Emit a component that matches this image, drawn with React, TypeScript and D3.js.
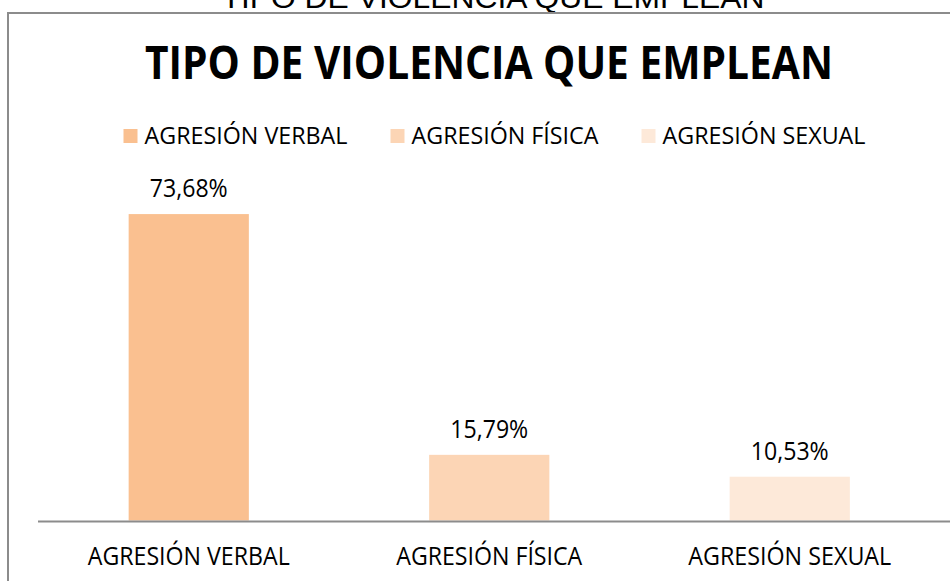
import React from "react";
import * as d3 from "d3";

const categories = ["AGRESIÓN VERBAL", "AGRESIÓN FÍSICA", "AGRESIÓN SEXUAL"];
const values = [73.68, 15.79, 10.53];
const valueLabels = ["73,68%", "15,79%", "10,53%"];
const colors = ["#FAC090", "#FCD5B5", "#FDE9D9"];
const title = "TIPO DE VIOLENCIA QUE EMPLEAN";

const W = 950;
const H = 581;
const FONT = "'Open Sans', 'Noto Sans', sans-serif";

export default function App() {
  const x = d3
    .scaleBand<string>()
    .domain(categories)
    .range([38.5, 940])
    .paddingInner(0.6)
    .paddingOuter(0.3);
  const y = d3.scaleLinear().domain([0, 80]).range([520.5, 187.8]);

  const legendX = [123.5, 390.5, 641.5];
  const legendTextW = [203, 187, 203];
  const catTextW = [202, 186, 203];

  return (
    <svg
      width={W}
      height={H}
      style={{ position: "absolute", left: 0, top: 0, background: "#fff" }}
    >
      <text
        x={493}
        y={8}
        textAnchor="middle"
        fontFamily="'Liberation Sans', Arial, sans-serif"
        fontSize={30}
        fill="#000"
        textLength={543}
        lengthAdjust="spacingAndGlyphs"
      >
        {title}
      </text>
      {/* chart border */}
      <path d="M8,581 L8,13 L960,13" fill="none" stroke="#8c8c8c" strokeWidth={2} />

      <text
        x={489}
        y={79}
        textAnchor="middle"
        fontFamily={FONT}
        fontWeight={700}
        fontSize={47}
        fill="#000"
        textLength={688}
        lengthAdjust="spacingAndGlyphs"
      >
        {title}
      </text>

      {categories.map((c, i) => (
        <g key={"lg" + i}>
          <rect x={legendX[i]} y={129} width={14} height={14} fill={colors[i]} />
          <text
            x={legendX[i] + 21}
            y={143.5}
            fontFamily={FONT}
            fontSize={23}
            fill="#000"
            textLength={legendTextW[i]}
            lengthAdjust="spacingAndGlyphs"
          >
            {c}
          </text>
        </g>
      ))}

      {categories.map((c, i) => (
        <g key={"b" + i}>
          <rect
            x={x(c)!}
            y={y(values[i])}
            width={x.bandwidth()}
            height={y(0) - y(values[i])}
            fill={colors[i]}
          />
          <text
            x={x(c)! + x.bandwidth() / 2}
            y={y(values[i]) - 17}
            textAnchor="middle"
            fontFamily={FONT}
            fontSize={25}
            fill="#000"
            textLength={78}
            lengthAdjust="spacingAndGlyphs"
          >
            {valueLabels[i]}
          </text>
          <text
            x={x(c)! + x.bandwidth() / 2}
            y={565}
            textAnchor="middle"
            fontFamily={FONT}
            fontSize={26}
            fill="#000"
            textLength={catTextW[i]}
            lengthAdjust="spacingAndGlyphs"
          >
            {c}
          </text>
        </g>
      ))}

      <line x1={38} x2={950} y1={y(0) + 1} y2={y(0) + 1} stroke="#8c8c8c" strokeWidth={2} />
    </svg>
  );
}
